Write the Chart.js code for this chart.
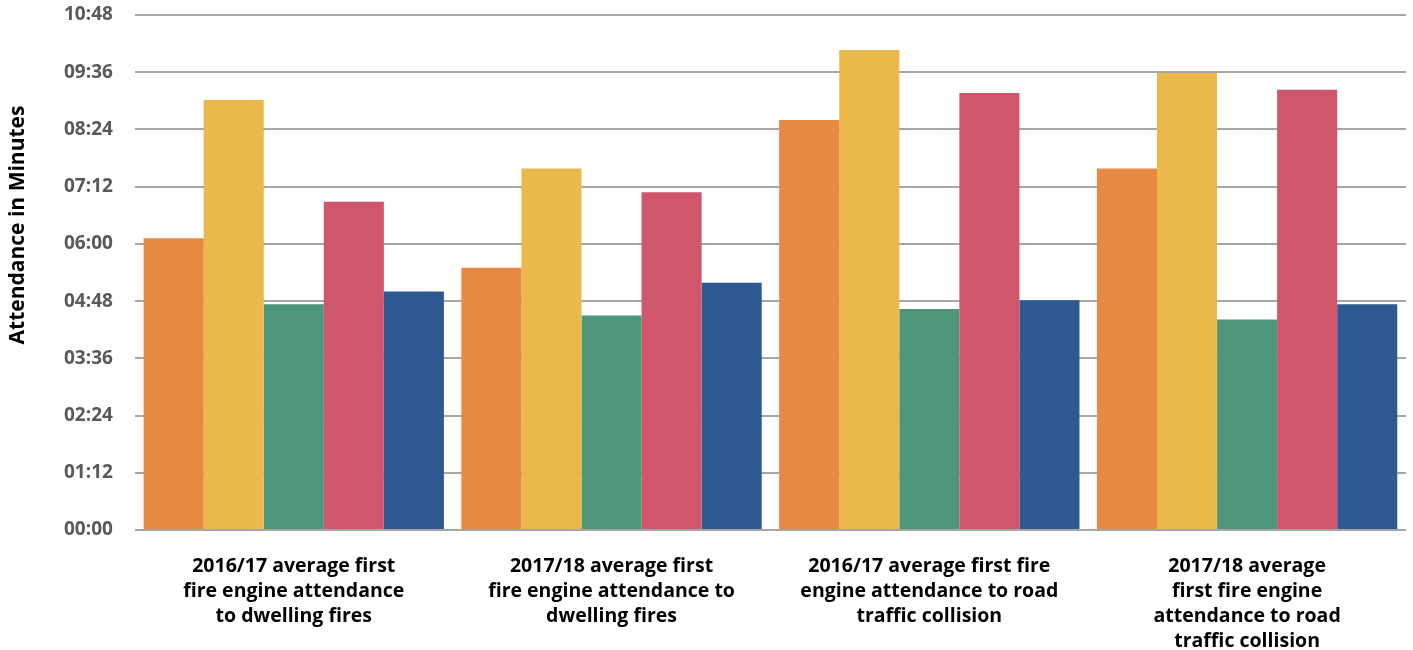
<!DOCTYPE html>
<html>
<head>
<meta charset="utf-8">
<script src="https://cdn.jsdelivr.net/npm/chart.js@4/dist/chart.umd.min.js"></script>
<style>
  html, body { margin: 0; padding: 0; background: #fff; }
  #wrap { width: 1413px; height: 650px; }
</style>
</head>
<body>
<div id="wrap"><canvas id="chart"></canvas></div>
<script>
// categories (each label split into the lines shown under the bars)
const categories = [
  ["2016/17 average first", "fire engine attendance", "to dwelling fires"],
  ["2017/18 average first", "fire engine attendance to", "dwelling fires"],
  ["2016/17 average first fire", "engine attendance to road", "traffic collision"],
  ["2017/18 average", "first fire engine", "attendance to road", "traffic collision"]
];

// attendance times in seconds
const series1 = [367, 330, 516, 455];
const series2 = [541, 455, 604, 575];
const series3 = [284, 270, 278, 265];
const series4 = [413, 425, 550, 554];
const series5 = [300, 311, 289, 284];

const seriesNames = ["Series 1", "Series 2", "Series 3", "Series 4", "Series 5"];
const colors = ["#E68A43", "#EBB84B", "#4D967A", "#D0566C", "#2E5A91"];

// y axis: 00:00 to 10:48 in steps of 01:12
const yMax = 648;
const yStep = 72;
const yTitle = "Attendance in Minutes";

const fontFamily = "'Open Sans', sans-serif";

function mmss(sec) {
  const m = Math.floor(sec / 60);
  const s = Math.round(sec % 60);
  return String(m).padStart(2, "0") + ":" + String(s).padStart(2, "0");
}

// draw the rotated y title a bit above the middle, like the original
const yTitlePlugin = {
  id: "yTitle",
  afterDraw(chart) {
    const ctx = chart.ctx;
    ctx.save();
    ctx.translate(18, 225);
    ctx.rotate(-Math.PI / 2);
    ctx.font = "bold 21px " + fontFamily;
    ctx.fillStyle = "#000";
    ctx.textAlign = "center";
    ctx.textBaseline = "middle";
    ctx.fillText(yTitle, 0, 0);
    ctx.restore();
  }
};

const allSeries = [series1, series2, series3, series4, series5];

new Chart(document.getElementById("chart"), {
  type: "bar",
  data: {
    labels: categories,
    datasets: allSeries.map((vals, i) => ({
      label: seriesNames[i],
      data: vals,
      backgroundColor: colors[i],
      borderWidth: 0,
      categoryPercentage: 0.945,
      barPercentage: 1.0
    }))
  },
  options: {
    responsive: true,
    maintainAspectRatio: false,
    animation: false,
    layout: { padding: { left: 42, right: 7, top: 0, bottom: 0 } },
    plugins: {
      legend: { display: false },
      tooltip: { enabled: false }
    },
    scales: {
      x: {
        grid: { display: false, drawTicks: false },
        border: { display: false },
        afterFit: s => { s.height = 120; },
        ticks: {
          color: "#000",
          font: { family: fontFamily, size: 19.5, weight: "bold", lineHeight: 1.28 },
          padding: 24,
          maxRotation: 0,
          autoSkip: false
        }
      },
      y: {
        min: 0,
        max: yMax,
        border: { display: false },
        grid: { color: "#a6a6a6", lineWidth: 2, drawTicks: false },
        // tick padding also pads the top edge, keep the plot close to the top
        afterFit: s => { s.paddingTop = 15; },
        ticks: {
          stepSize: yStep,
          color: "#595959",
          font: { family: fontFamily, size: 19, weight: "bold" },
          padding: 22,
          callback: v => mmss(v)
        }
      }
    }
  },
  plugins: [yTitlePlugin]
});
</script>
</body>
</html>
